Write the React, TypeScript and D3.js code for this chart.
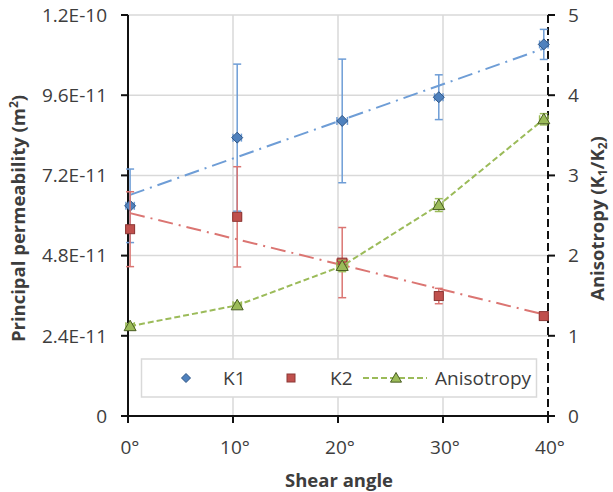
import React from "react";
import * as d3 from "d3";

const angles = [0.2, 10.4, 20.4, 29.6, 39.6];
const angleErr = [0.4, 0.4, 0.5, 0.4, 0.4];
const k1 = [6.29e-11, 8.33e-11, 8.83e-11, 9.54e-11, 11.12e-11];
const k1Err = [1.1e-11, 2.2e-11, 1.85e-11, 0.67e-11, 0.45e-11];
const k2 = [5.59e-11, 5.96e-11, 4.59e-11, 3.59e-11, 2.99e-11];
const k2Err = [1.12e-11, 1.5e-11, 1.05e-11, 0.23e-11, 0.06e-11];
const aniso = [1.12, 1.38, 1.87, 2.63, 3.7];
const anisoErr = [0.03, 0.03, 0.07, 0.08, 0.07];

const xTicks = [0, 10, 20, 30, 40];
const xTickLabels = ["0°", "10°", "20°", "30°", "40°"];
const yLeftTicks = [0, 2.4e-11, 4.8e-11, 7.2e-11, 9.6e-11, 1.2e-10];
const yLeftLabels = ["0", "2.4E-11", "4.8E-11", "7.2E-11", "9.6E-11", "1.2E-10"];
const yRightTicks = [0, 1, 2, 3, 4, 5];
const yRightLabels = ["0", "1", "2", "3", "4", "5"];
const legendLabels = ["K1", "K2", "Anisotropy"];
const xTitle = "Shear angle";
const yLeftTitle = "Principal permeability (m";
const yRightTitle = "Anisotropy (K";

const W = 613, H = 492;
const L = 128, R = 548, T = 15, B = 416;

const x = d3.scaleLinear().domain([0, 40]).range([L, R]);
const yL = d3.scaleLinear().domain([0, 1.2e-10]).range([B, T]);
const yR = d3.scaleLinear().domain([0, 5]).range([B, T]);

function fit(xs: number[], ys: number[]) {
  const mx = d3.mean(xs)!, my = d3.mean(ys)!;
  let sxy = 0, sxx = 0;
  xs.forEach((v, i) => { sxy += (v - mx) * (ys[i] - my); sxx += (v - mx) ** 2; });
  const b = sxy / sxx;
  const a = my - b * mx;
  return (v: number) => a + b * v;
}

const FONT = "'Open Sans', sans-serif";
const TEXT = "#3D3D3D";
const blue = "#4F81BD", blueDark = "#2F5585", blueLine = "#6E9DD6";
const red = "#C0504D", redDark = "#8C3836", redLine = "#DB7572";
const green = "#9BBB59", greenDark = "#4A5E24";

const diamond = (cx: number, cy: number, r = 5.5) =>
  `M${cx},${cy - r}L${cx + r},${cy}L${cx},${cy + r}L${cx - r},${cy}Z`;
const tri = (cx: number, cy: number, r = 6) =>
  `M${cx},${cy - r}L${cx + r},${cy + r * 0.75}L${cx - r},${cy + r * 0.75}Z`;

function ErrorBars({ ys, errs, scale, color }: { ys: number[]; errs: number[]; scale: d3.ScaleLinear<number, number>; color: string }) {
  return (
    <g stroke={color} strokeWidth={1.5} fill="none">
      {angles.map((a, i) => {
        const cx = x(a), y1 = scale(ys[i] + errs[i]), y2 = scale(ys[i] - errs[i]);
        const xl = x(a - angleErr[i]), xr = x(a + angleErr[i]), cy = scale(ys[i]);
        return (
          <g key={i}>
            <line x1={cx} x2={cx} y1={y1} y2={y2} />
            <line x1={cx - 4} x2={cx + 4} y1={y1} y2={y1} />
            <line x1={cx - 4} x2={cx + 4} y1={y2} y2={y2} />
            <line x1={xl} x2={xr} y1={cy} y2={cy} />
            <line x1={xl} x2={xl} y1={cy - 4} y2={cy + 4} />
            <line x1={xr} x2={xr} y1={cy - 4} y2={cy + 4} />
          </g>
        );
      })}
    </g>
  );
}

export default function App() {
  const f1 = fit(angles, k1);
  const f2 = fit(angles, k2);
  const x0 = d3.min(angles)!, x1 = d3.max(angles)!;
  const anisoLine = d3.line<number>().x((_, i) => x(angles[i])).y((d) => yR(d))(aniso)!;
  const midY = (T + B) / 2 + 3;
  const ly = 378;
  return (
    <svg width={W} height={H} style={{ position: "absolute", left: 0, top: 0, background: "#fff" }} fontFamily={FONT}>
      <rect width={W} height={H} fill="#fff" />
      {/* gridlines */}
      <g stroke="#D9D9D9" strokeWidth={1.5}>
        {yLeftTicks.slice(1).map((t) => (
          <line key={t} x1={L} x2={R} y1={yL(t)} y2={yL(t)} />
        ))}
        {xTicks.slice(1, -1).map((t) => (
          <line key={t} x1={x(t)} x2={x(t)} y1={T} y2={B} />
        ))}
      </g>
      {/* axes */}
      <g stroke="#111" strokeWidth={2}>
        <line x1={L} x2={L} y1={T} y2={B + 7} />
        <line x1={L - 7} x2={R} y1={B} y2={B} />
        {yLeftTicks.map((t) => (
          <line key={t} x1={L - 7} x2={L} y1={yL(t)} y2={yL(t)} />
        ))}
        {xTicks.map((t) => (
          <line key={t} x1={x(t)} x2={x(t)} y1={B} y2={B + 7} />
        ))}
        <line x1={R} x2={R} y1={T} y2={B + 7} strokeDasharray="8,4" />
        {yRightTicks.map((t) => (
          <line key={t} x1={R} x2={R + 7} y1={yR(t)} y2={yR(t)} />
        ))}
      </g>
      {/* tick labels */}
      <g fontSize={19} fill={TEXT}>
        {yLeftTicks.map((t, i) => (
          <text key={t} x={107} y={yL(t)} dy="0.36em" textAnchor="end">{yLeftLabels[i]}</text>
        ))}
        {yRightTicks.map((t, i) => (
          <text key={t} x={568} y={yR(t)} dy="0.36em" textAnchor="start">{yRightLabels[i]}</text>
        ))}
        {xTicks.map((t, i) => (
          <text key={t} x={x(t) + 2} y={454} textAnchor="middle">{xTickLabels[i]}</text>
        ))}
      </g>
      {/* titles */}
      <g fontSize={18.5} fontWeight="bold" fill={TEXT}>
        <text x={(L + R) / 2 + 1} y={487} textAnchor="middle">{xTitle}</text>
        <text transform={`translate(25,${midY}) rotate(-90)`} textAnchor="middle">
          {yLeftTitle}<tspan dy={-7} fontSize={12}>2</tspan><tspan dy={7}>)</tspan>
        </text>
        <text transform={`translate(604,${midY}) rotate(-90)`} textAnchor="middle">
          {yRightTitle}<tspan dy={3} fontSize={12}>1</tspan><tspan dy={-3}>/K</tspan><tspan dy={3} fontSize={12}>2</tspan><tspan dy={-3}>)</tspan>
        </text>
      </g>
      {/* K1 */}
      <ErrorBars ys={k1} errs={k1Err} scale={yL} color={blueLine} />
      <line x1={x(x0)} x2={x(x1)} y1={yL(f1(x0))} y2={yL(f1(x1))} stroke={blueLine} strokeWidth={2} strokeDasharray="15,6,2,6" />
      {angles.map((a, i) => (
        <path key={i} d={diamond(x(a), yL(k1[i]))} fill={blue} stroke={blueDark} strokeWidth={1} />
      ))}
      {/* K2 */}
      <ErrorBars ys={k2} errs={k2Err} scale={yL} color={redLine} />
      <line x1={x(x0)} x2={x(x1)} y1={yL(f2(x0))} y2={yL(f2(x1))} stroke={redLine} strokeWidth={2} strokeDasharray="15,6,2,6" />
      {angles.map((a, i) => (
        <rect key={i} x={x(a) - 4.5} y={yL(k2[i]) - 4.5} width={9} height={9} fill={red} stroke={redDark} strokeWidth={1} />
      ))}
      {/* Anisotropy */}
      <ErrorBars ys={aniso} errs={anisoErr} scale={yR} color={green} />
      <path d={anisoLine} fill="none" stroke={green} strokeWidth={2} strokeDasharray="6,3" />
      {angles.map((a, i) => (
        <path key={i} d={tri(x(a), yR(aniso[i]))} fill={green} stroke={greenDark} strokeWidth={1} />
      ))}
      {/* legend */}
      <rect x={141.5} y={359} width={395} height={38} fill="#fff" stroke="#D9D9D9" strokeWidth={1.5} />
      <path d={diamond(186, ly, 4.5)} fill={blue} stroke={blueDark} strokeWidth={1} />
      <rect x={287} y={ly - 4} width={8} height={8} fill={red} stroke={redDark} strokeWidth={1} />
      <line x1={363} x2={427} y1={ly} y2={ly} stroke={green} strokeWidth={2} strokeDasharray="6,3" />
      <path d={tri(396, ly, 5.5)} fill={green} stroke={greenDark} strokeWidth={1} />
      <g fontSize={19} fill={TEXT}>
        <text x={223} y={ly} dy="0.36em">{legendLabels[0]}</text>
        <text x={330} y={ly} dy="0.36em">{legendLabels[1]}</text>
        <text x={435} y={ly} dy="0.36em">{legendLabels[2]}</text>
      </g>
    </svg>
  );
}
